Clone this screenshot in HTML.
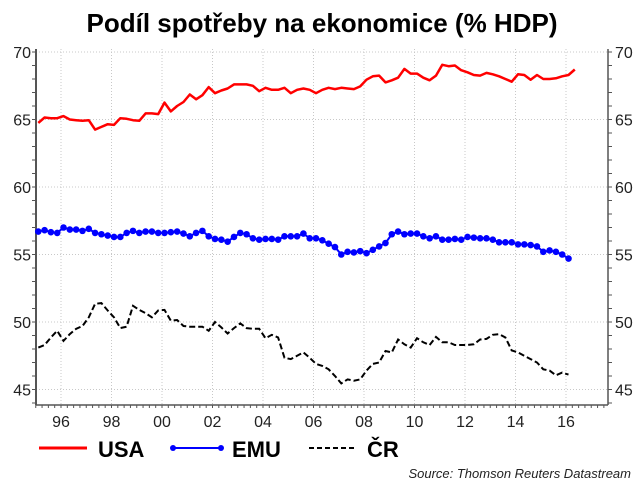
<!DOCTYPE html>
<html><head><meta charset="utf-8"><style>
body{margin:0;background:#fff;}
svg{display:block;font-family:"Liberation Sans",Arial,sans-serif;}
</style></head><body>
<svg id="chart" width="640" height="484" viewBox="0 0 640 484">
<text x="322" y="32" text-anchor="middle" font-size="26" font-weight="bold">Podíl spotřeby na ekonomice (% HDP)</text>
<g id="grid"></g>
<g id="axes"></g>
<g id="series"></g>
<g>
 <g>
  <line x1="39" y1="448" x2="87" y2="448" stroke="#f00" stroke-width="3"/>
  <text x="98" y="457" font-size="22" font-weight="bold">USA</text>
 </g>
 <g>
  <line x1="173" y1="448" x2="221" y2="448" stroke="#00f" stroke-width="2"/>
  <circle cx="173" cy="448" r="3" fill="#00f"/><circle cx="221" cy="448" r="3" fill="#00f"/>
  <text x="232" y="457" font-size="22" font-weight="bold">EMU</text>
 </g>
 <g>
  <line x1="309" y1="448" x2="354" y2="448" stroke="#000" stroke-width="2" stroke-dasharray="5,3"/>
  <text x="367" y="457" font-size="22" font-weight="bold">ČR</text>
 </g>
</g>
<text x="631" y="478" text-anchor="end" font-size="13" font-style="italic" fill="#222">Source: Thomson Reuters Datastream</text>
</svg>
<script>
const startYear = 1995;
const yTicks = [45, 50, 55, 60, 65, 70];
const xTickLabels = ["96","98","00","02","04","06","08","10","12","14","16"];
const xTickYears = [1996,1998,2000,2002,2004,2006,2008,2010,2012,2014,2016];
const usa = [64.75,65.15,65.1,65.1,65.25,65.0,64.95,64.9,64.95,64.25,64.45,64.65,64.6,65.1,65.05,64.95,64.9,65.45,65.45,65.4,66.25,65.6,66.0,66.3,66.85,66.5,66.8,67.4,66.95,67.15,67.3,67.6,67.6,67.6,67.5,67.1,67.35,67.2,67.2,67.35,66.95,67.2,67.3,67.2,66.95,67.2,67.35,67.25,67.35,67.3,67.25,67.45,67.95,68.2,68.25,67.75,67.9,68.1,68.75,68.4,68.4,68.1,67.9,68.25,69.05,68.95,69.0,68.65,68.5,68.3,68.25,68.45,68.35,68.2,68.0,67.8,68.35,68.3,67.95,68.3,68.0,68.0,68.05,68.2,68.3,68.7];
const emu = [56.7,56.8,56.65,56.6,57.0,56.85,56.85,56.75,56.9,56.6,56.5,56.4,56.3,56.3,56.6,56.75,56.6,56.7,56.7,56.6,56.6,56.65,56.7,56.55,56.35,56.6,56.75,56.35,56.15,56.1,55.95,56.3,56.6,56.5,56.2,56.1,56.15,56.15,56.1,56.35,56.35,56.35,56.55,56.2,56.2,56.05,55.8,55.55,55.0,55.2,55.15,55.25,55.1,55.35,55.6,55.85,56.5,56.7,56.5,56.55,56.55,56.35,56.2,56.35,56.1,56.1,56.15,56.1,56.3,56.25,56.2,56.2,56.1,55.9,55.9,55.9,55.75,55.75,55.7,55.6,55.2,55.3,55.2,55.0,54.7];
const cr = [48.1,48.3,48.85,49.35,48.6,49.1,49.5,49.7,50.35,51.35,51.4,50.85,50.35,49.55,49.65,51.2,50.9,50.65,50.35,50.85,50.9,50.1,50.15,49.7,49.65,49.65,49.65,49.35,50.0,49.6,49.15,49.55,49.9,49.55,49.5,49.5,48.8,49.05,48.85,47.35,47.25,47.5,47.75,47.35,46.9,46.75,46.5,46.0,45.45,45.75,45.65,45.75,46.4,46.9,47.0,47.85,47.75,48.7,48.35,48.1,48.8,48.5,48.3,48.9,48.5,48.5,48.3,48.3,48.3,48.35,48.7,48.75,49.05,49.1,48.85,47.9,47.75,47.5,47.25,47.0,46.5,46.4,46.05,46.25,46.1];

const L=36,R=608,T=49,B=405;
const xs = t => 61 + (t-1996)*25.25;
const ys = v => 52 + (70-v)*13.5;
const NS="http://www.w3.org/2000/svg";
function mk(tag,attrs,parent){const e=document.createElementNS(NS,tag);for(const k in attrs)e.setAttribute(k,attrs[k]);parent.appendChild(e);return e;}
const grid=document.getElementById('grid'),axes=document.getElementById('axes'),ser=document.getElementById('series');

yTicks.forEach(v=>{
  const g=mk('line',{x1:L,x2:R,y1:ys(v),y2:ys(v),stroke:'#c8c8c8','stroke-width':1,'stroke-dasharray':'1,2'},grid);
  
  
  const a=mk('text',{x:L-5,y:ys(v)+6,'text-anchor':'end','font-size':16,fill:'#222'},axes);
  a.textContent=v;
  
  
  const b=mk('text',{x:R+7,y:ys(v)+6,'text-anchor':'start','font-size':16,fill:'#222'},axes);
  b.textContent=v;
  
  
});
for(let v=44;v<=70;v++){
  mk('line',{x1:L-4,x2:L,y1:ys(v),y2:ys(v),stroke:'#555'},axes);
  mk('line',{x1:R,x2:R+4,y1:ys(v),y2:ys(v),stroke:'#555'},axes);
}
xTickYears.forEach((yr,i)=>{
  const g=mk('line',{x1:xs(yr),x2:xs(yr),y1:T,y2:B,stroke:'#c8c8c8','stroke-width':1,'stroke-dasharray':'1,2'},grid);
  
  
  const t=mk('text',{x:xs(yr),y:B+22,'text-anchor':'middle','font-size':16,fill:'#222'},axes);
  t.textContent=xTickLabels[i];
  
  
});
for(let q=0;q<=92;q++){const x=xs(startYear+q*0.25);if(x>R)break;mk('line',{x1:x,x2:x,y1:B,y2:B+3,stroke:'#555'},axes);}
mk('line',{x1:L,x2:L,y1:T,y2:B,stroke:'#555','stroke-width':2},axes);
mk('line',{x1:R,x2:R,y1:T,y2:B,stroke:'#555','stroke-width':1.5},axes);
mk('line',{x1:L,x2:R,y1:B,y2:B,stroke:'#555','stroke-width':1.5},axes);

function pts(arr){return arr.map((v,i)=>xs(startYear+0.1+i*0.25).toFixed(1)+','+ys(v).toFixed(1)).join(' ');}
const pu=mk('polyline',{points:pts(usa),fill:'none',stroke:'#f00','stroke-width':2.5,'stroke-linejoin':'round'},ser);


const pe=mk('polyline',{points:pts(emu),fill:'none',stroke:'#00f','stroke-width':2},ser);


emu.forEach((v,i)=>{
  const c=mk('circle',{cx:xs(startYear+0.1+i*0.25),cy:ys(v),r:3.3,fill:'#00f'},ser);
  
  
});
const pc=mk('polyline',{points:pts(cr),fill:'none',stroke:'#000','stroke-width':2,'stroke-dasharray':'6,3'},ser);


</script>
</body></html>
